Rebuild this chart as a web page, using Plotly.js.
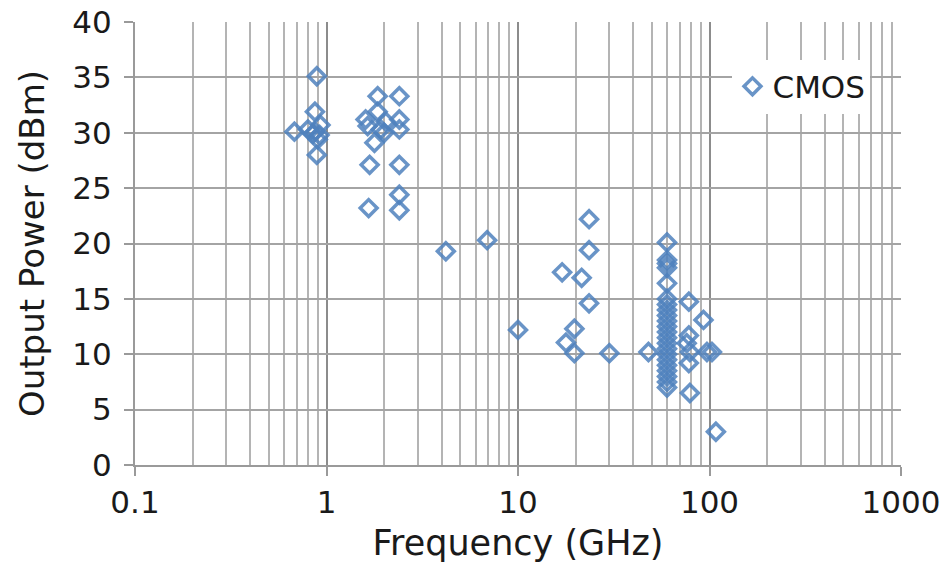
<!DOCTYPE html>
<html>
<head>
<meta charset="utf-8">
<script src="https://cdn.plot.ly/plotly-3.0.1.min.js"></script>
<style>html,body{margin:0;padding:0;background:#fff;}#chart{width:943px;height:565px;}</style>
</head>
<body>
<div id="chart"></div>
<script>
// Frequency (GHz) and output power (dBm)
const freqGHz = [
  0.89, 0.87, 0.68, 0.80, 0.87, 0.92, 0.90, 0.89, 0.93, 0.85,
  1.85, 2.4, 1.85, 1.6, 1.64, 2.04, 2.4, 1.92, 2.4, 2.0, 1.78, 1.68, 2.4, 2.4, 1.66, 2.4,
  4.2, 6.9, 10, 23.5, 23.5, 17, 21.5, 23.5, 19.7, 17.8, 19.7, 30, 48,
  60, 60, 60, 60, 60, 60, 60, 60, 60, 60, 60, 60, 60, 60, 60, 60, 60, 60, 60, 60, 60, 60,
  78, 93, 78, 76, 79, 97, 103, 78, 79, 108
];
const powerDBm = [
  35.1, 31.9, 30.1, 30.3, 30.1, 29.8, 29.4, 28.0, 30.7, 29.9,
  33.3, 33.3, 31.9, 31.2, 30.6, 31.0, 31.2, 30.3, 30.3, 30.0, 29.1, 27.1, 27.1, 24.4, 23.2, 23.0,
  19.3, 20.3, 12.2, 22.2, 19.4, 17.4, 16.9, 14.6, 12.3, 11.05, 10.1, 10.1, 10.2,
  20.1, 18.5, 18.2, 17.8, 16.4, 15.0, 14.5, 14.0, 13.5, 13.0, 12.5, 12.0, 11.5, 11.0, 10.5, 10.0, 9.5, 9.0, 8.5, 8.0, 7.5, 7.0,
  14.75, 13.1, 11.7, 11.0, 10.2, 10.2, 10.2, 9.2, 6.5, 3.0
];
const seriesName = 'CMOS';
const xTickVals = [0.1, 1, 10, 100, 1000];
const xTickText = ['0.1', '1', '10', '100', '1000'];
const yTickVals = [0, 5, 10, 15, 20, 25, 30, 35, 40];

const FONT = '"DejaVu Sans", sans-serif';
const TXT = '#1a1a1a';
const trace = {
  type: 'scatter',
  mode: 'markers',
  name: seriesName,
  x: freqGHz,
  y: powerDBm,
  marker: {
    symbol: 'diamond-open',
    size: 13,
    color: 'rgba(79,129,189,0.85)',
    line: {width: 3.5, color: 'rgba(79,129,189,0.85)'}
  }
};

const layout = {
  width: 943,
  height: 565,
  margin: {l: 135, r: 42, t: 22, b: 100},
  paper_bgcolor: '#ffffff',
  plot_bgcolor: '#ffffff',
  font: {family: FONT, color: TXT, size: 31},
  showlegend: true,
  legend: {
    x: 0.78, xanchor: 'left',
    y: 0.915, yanchor: 'top',
    bgcolor: '#ffffff',
    borderwidth: 0,
    font: {family: FONT, size: 31, color: TXT},
    itemwidth: 30
  },
  xaxis: {
    type: 'log',
    range: [-1, 3],
    tickmode: 'array',
    tickvals: xTickVals,
    ticktext: xTickText,
    ticks: 'outside',
    ticklen: 9,
    tickwidth: 2,
    tickcolor: '#9a9a9a',
    showline: true,
    linecolor: '#9a9a9a',
    linewidth: 2,
    showgrid: true,
    gridcolor: '#8c8c8c',
    gridwidth: 2,
    zeroline: false,
    minor: {dtick: 'D1', showgrid: true, gridcolor: '#b4b4b4', gridwidth: 2, ticks: ''},
    tickfont: {family: FONT, size: 31, color: TXT},
    title: {text: 'Frequency (GHz)', font: {family: FONT, size: 35, color: TXT}, standoff: 11}
  },
  yaxis: {
    range: [0, 40],
    tickmode: 'array',
    tickvals: yTickVals,
    ticks: 'outside',
    ticklen: 9,
    tickwidth: 2,
    tickcolor: '#9a9a9a',
    showline: true,
    linecolor: '#9a9a9a',
    linewidth: 2,
    showgrid: true,
    gridcolor: '#a4a4a4',
    gridwidth: 2,
    zeroline: false,
    ticklabelstandoff: 6,
    tickfont: {family: FONT, size: 31, color: TXT},
    title: {text: 'Output Power (dBm)', font: {family: FONT, size: 34, color: TXT}, standoff: 17}
  }
};

Plotly.newPlot('chart', [trace], layout, {displayModeBar: false, staticPlot: true});
</script>
</body>
</html>
